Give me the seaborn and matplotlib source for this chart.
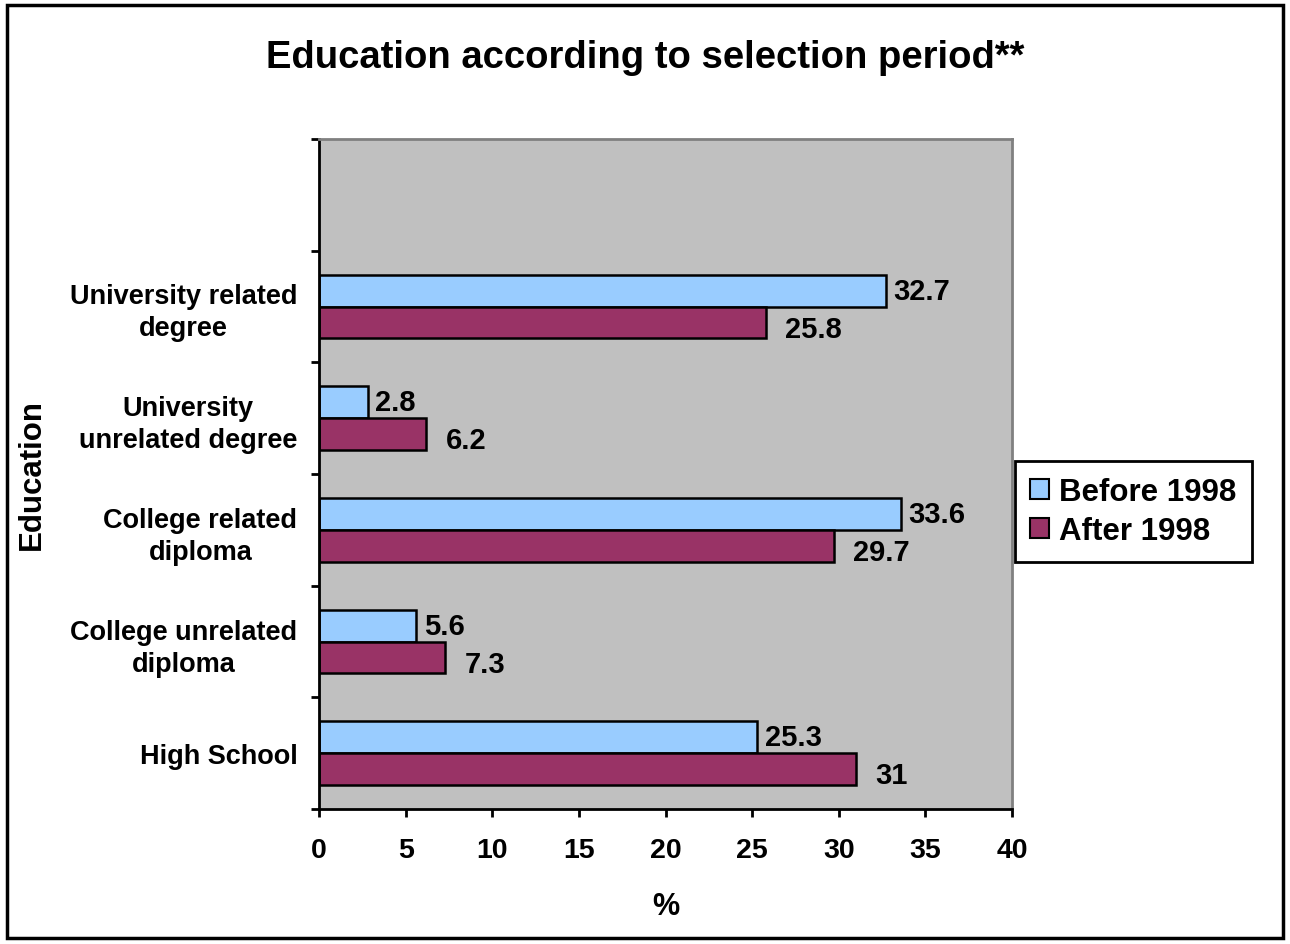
import numpy as np
import pandas as pd
import matplotlib
matplotlib.use("Agg")
import matplotlib.pyplot as plt
import matplotlib.patches as mpatches
import seaborn as sns

categories = ["University related\ndegree", "University\nunrelated degree",
              "College related\ndiploma", "College unrelated\ndiploma", "High School"]
before_1998 = [32.7, 2.8, 33.6, 5.6, 25.3]
after_1998 = [25.8, 6.2, 29.7, 7.3, 31]
series_names = ["Before 1998", "After 1998"]
x_ticks = [0, 5, 10, 15, 20, 25, 30, 35, 40]

BLUE = "#99CCFF"
MAROON = "#993366"

sns.set_style("white")
plt.rcParams['font.family'] = ['Liberation Sans', 'DejaVu Sans']
plt.rcParams['font.weight'] = 'bold'
for k in ['text.color', 'axes.labelcolor', 'xtick.color', 'ytick.color']:
    plt.rcParams[k] = 'black'

df = pd.DataFrame({
    "cat": categories * 2,
    "val": before_1998 + after_1998,
    "period": [series_names[0]] * len(categories) + [series_names[1]] * len(categories),
})

fig = plt.figure(figsize=(12.9, 9.45), dpi=100)
ax = fig.add_axes([319/1290, 1-810/945, (1012-319)/1290, (810-140)/945])
ax.set_facecolor("#C0C0C0")

sns.barplot(data=df, y="cat", x="val", hue="period", orient="h",
            order=categories, hue_order=series_names,
            palette=[BLUE, MAROON], edgecolor="black", linewidth=1.8,
            width=0.573, ax=ax, legend=False, errorbar=None, saturation=1)

ax.set_xlim(0, 40)
ax.set_ylim(len(categories) - 0.5, -1.5)
ax.set_xticks(x_ticks)
ax.set_xticklabels([str(t) for t in x_ticks], fontsize=20.5, fontweight='bold')
ax.set_yticks(np.arange(-1.5, len(categories), 1.0))
ax.set_yticklabels([])
ax.set_yticks(np.arange(len(categories)), minor=True)
ax.set_yticklabels(categories, minor=True, fontsize=19.5, fontweight='bold',
                   multialignment='center', linespacing=1.3)
ax.tick_params(axis='y', which='major', direction='out', length=6, width=2, left=True)
ax.tick_params(axis='y', which='minor', length=0, pad=15.5)
ax.tick_params(axis='x', which='major', direction='out', length=6, width=2, bottom=True, pad=14)

for s in ["left", "bottom"]:
    ax.spines[s].set_color("black")
    ax.spines[s].set_linewidth(2)
for s in ["top", "right"]:
    ax.spines[s].set_color("#808080")
    ax.spines[s].set_linewidth(2)

ax.set_xlabel("%", fontsize=22, fontweight='bold', labelpad=20)
ax.set_ylabel("Education", fontsize=22.5, fontweight='bold', labelpad=0)
ax.yaxis.set_label_coords(-0.3925, 0.5)

# value labels
for i, cont in enumerate(ax.containers):
    vals = before_1998 if i == 0 else after_1998
    labs = [f"{v:g}" for v in vals]
    anns = ax.bar_label(cont, labels=labs, padding=5.5 if i == 0 else 14,
                        fontsize=21, fontweight='bold')
    if i == 1:
        for a in anns:
            a.xyann = (14, -4.5)

fig.suptitle("Education according to selection period**", fontsize=27.5,
             fontweight='bold', y=1-58/945, va='center')

handles = [mpatches.Patch(facecolor=BLUE, edgecolor='black', linewidth=1.5),
           mpatches.Patch(facecolor=MAROON, edgecolor='black', linewidth=1.5)]
leg = ax.legend(handles, series_names, loc='upper left', bbox_to_anchor=(1.004, 0.519),
                fontsize=22.5, frameon=True, fancybox=False, framealpha=1,
                edgecolor='black', handlelength=0.6, handleheight=0.6,
                handletextpad=0.3, borderpad=0.5, labelspacing=0.3, borderaxespad=0)
leg.get_frame().set_linewidth(2)
for t in leg.get_texts():
    t.set_fontweight('bold')

border = mpatches.Rectangle((7/1290, 6/945), (1283-7)/1290, (939-6)/945,
                            transform=fig.transFigure, fill=False,
                            edgecolor='black', linewidth=2.5)
fig.patches.append(border)

fig.savefig("out.png", dpi=100)
